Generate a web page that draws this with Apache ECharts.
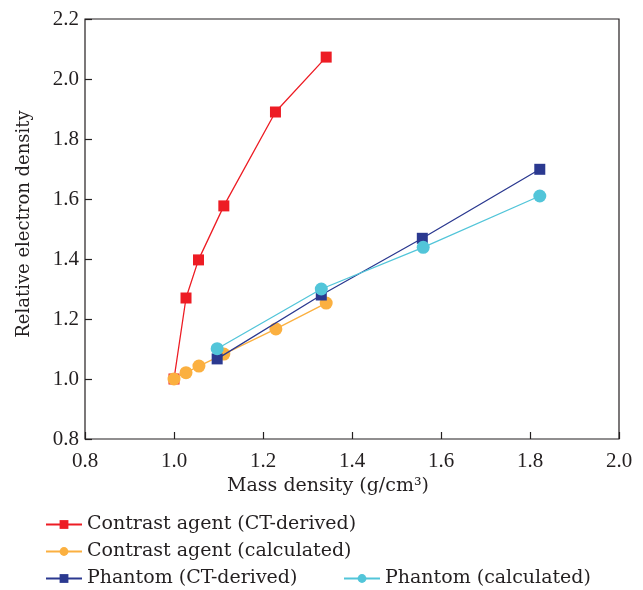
<!DOCTYPE html>
<html>
<head>
<meta charset="utf-8">
<script src="https://cdn.jsdelivr.net/npm/echarts@6/dist/echarts.min.js"></script>
<style>
  html, body { margin: 0; padding: 0; background: #fff; }
  #chart { width: 643px; height: 590px; }
</style>
</head>
<body>
<div id="chart"></div>
<script>
// values
var caCtX = [1.0, 1.027, 1.055, 1.112, 1.228, 1.342];
var caCtY = [1.0, 1.27, 1.397, 1.577, 1.89, 2.073];
var caCalcX = [1.0, 1.027, 1.056, 1.112, 1.229, 1.342];
var caCalcY = [1.0, 1.021, 1.043, 1.083, 1.167, 1.253];
var phCtX = [1.097, 1.331, 1.558, 1.822];
var phCtY = [1.067, 1.28, 1.469, 1.699];
var phCalcX = [1.097, 1.331, 1.56, 1.822];
var phCalcY = [1.101, 1.30, 1.439, 1.61];

var seriesNames = [
  "Contrast agent (CT-derived)",
  "Contrast agent (calculated)",
  "Phantom (CT-derived)",
  "Phantom (calculated)"
];

function pairs(xs, ys) {
  return xs.map(function (x, i) { return [x, ys[i]]; });
}

var font = "'DejaVu Serif', 'Liberation Serif', serif";
var numFont = "'Liberation Serif', 'DejaVu Serif', serif";
var ink = "#231F20";

var chart = echarts.init(document.getElementById("chart"));

function legendAt(name, left, top) {
  return {
    data: [name],
    left: left,
    top: top,
    itemWidth: 36,
    itemHeight: 11,
    itemGap: 0,
    padding: 0,
    textStyle: { fontFamily: font, fontSize: 19, color: ink }
  };
}

var option = {
  animation: false,
  backgroundColor: "#fff",
  legend: [
    legendAt(seriesNames[0], 45, 515),
    legendAt(seriesNames[1], 45, 542),
    legendAt(seriesNames[2], 45, 569),
    legendAt(seriesNames[3], 343, 569)
  ],
  grid: {
    left: 85,
    right: 24,
    top: 19,
    bottom: 151,
    show: true,
    borderColor: ink,
    borderWidth: 1.2
  },
  xAxis: {
    type: "value",
    min: 0.8,
    max: 2.0,
    interval: 0.2,
    name: "Mass density (g/cm³)",
    nameLocation: "middle",
    nameGap: 36,
    nameTextStyle: { fontFamily: font, fontSize: 19, color: ink, padding: [0, 48, 0, 0] },
    axisLine: { show: false },
    axisTick: { show: true, inside: true, length: 7, lineStyle: { color: ink, width: 1.2 } },
    splitLine: { show: false },
    axisLabel: {
      fontFamily: numFont, fontSize: 21, color: ink, margin: 12,
      formatter: function (v) { return v.toFixed(1); }
    }
  },
  yAxis: {
    type: "value",
    min: 0.8,
    max: 2.2,
    interval: 0.2,
    name: "Relative electron density",
    nameLocation: "middle",
    nameGap: 52,
    nameTextStyle: { fontFamily: font, fontSize: 18, color: ink, padding: [0, 0, 0, 10] },
    axisLine: { show: false },
    axisTick: { show: true, inside: true, length: 7, lineStyle: { color: ink, width: 1.2 } },
    splitLine: { show: false },
    axisLabel: {
      fontFamily: numFont, fontSize: 21, color: ink, margin: 6,
      formatter: function (v) { return v.toFixed(1); }
    }
  },
  series: [
    {
      name: seriesNames[0],
      type: "line",
      data: pairs(caCtX, caCtY),
      symbol: "rect",
      symbolSize: 11,
      color: "#ED1C24",
      lineStyle: { width: 1.3 },
      z: 2
    },
    {
      name: seriesNames[1],
      type: "line",
      data: pairs(caCalcX, caCalcY),
      symbol: "circle",
      symbolSize: 13,
      color: "#FBB040",
      lineStyle: { width: 1.3 },
      z: 3
    },
    {
      name: seriesNames[2],
      type: "line",
      data: pairs(phCtX, phCtY),
      symbol: "rect",
      symbolSize: 11,
      color: "#2B3990",
      lineStyle: { width: 1.3 },
      z: 4
    },
    {
      name: seriesNames[3],
      type: "line",
      data: pairs(phCalcX, phCalcY),
      symbol: "circle",
      symbolSize: 13,
      color: "#52C5D9",
      lineStyle: { width: 1.3 },
      z: 5
    }
  ]
};

chart.setOption(option);
</script>
</body>
</html>
